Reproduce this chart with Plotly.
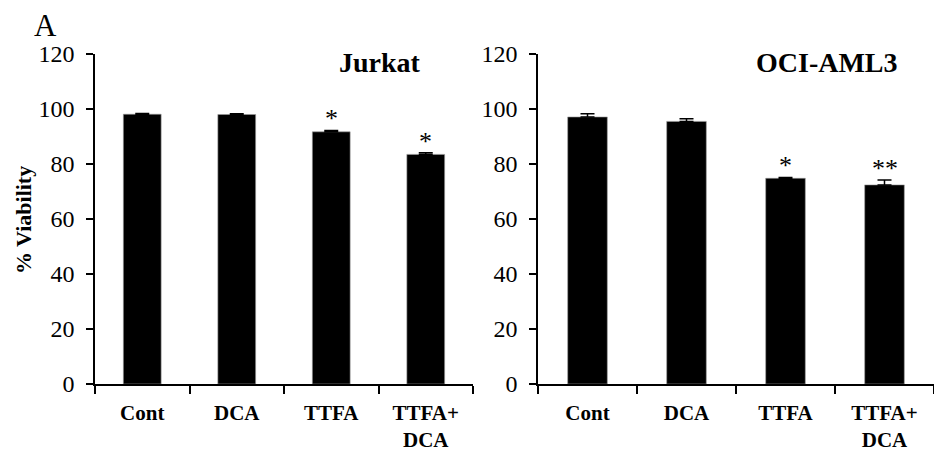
import plotly.graph_objects as go

categories = ["Cont", "DCA", "TTFA", "TTFA+<br>DCA"]
jurkat_values = [98.1, 98.0, 91.7, 83.5]
jurkat_errors = [0.3, 0.3, 0.5, 0.6]
jurkat_stars = ["", "", "*", "*"]
oci_values = [97.1, 95.5, 74.8, 72.4]
oci_errors = [1.2, 1.0, 0.3, 1.8]
oci_stars = ["", "", "*", "**"]
y_ticks = [0, 20, 40, 60, 80, 100, 120]

FONT = "Liberation Serif, Times New Roman, serif"
W, H = 934, 452
fig = go.Figure()

panels = [
    ("x", "y", jurkat_values, jurkat_errors, jurkat_stars),
    ("x2", "y2", oci_values, oci_errors, oci_stars),
]
for xa, ya, vals, errs, stars in panels:
    fig.add_trace(go.Bar(
        x=categories, y=vals, xaxis=xa, yaxis=ya,
        marker=dict(color="black", line=dict(color="#9a9a9a", width=0.6)),
        width=0.40,
        error_y=dict(type="data", symmetric=False, array=errs,
                     arrayminus=[0] * len(errs), color="black",
                     thickness=1.5, width=7),
        showlegend=False, hoverinfo="skip",
    ))
    for c, v, e, s in zip(categories, vals, errs, stars):
        if s:
            fig.add_annotation(x=c, y=v + e, xref=xa, yref=ya, text=s,
                               showarrow=False, xanchor="center",
                               yanchor="bottom", yshift=-5,
                               font=dict(family=FONT, size=26, color="black"))

axis_common = dict(showline=True, linecolor="black", linewidth=1.5,
                   ticks="outside", tickcolor="black", tickwidth=1.5,
                   showgrid=False, zeroline=False, automargin=False)
xfont = dict(family=FONT, size=21, weight="bold", color="black")
yfont = dict(family=FONT, size=24, color="black")

fig.update_layout(
    width=W, height=H,
    margin=dict(l=0, r=0, t=0, b=0, autoexpand=False),
    paper_bgcolor="white", plot_bgcolor="white",
    font=dict(family=FONT, color="black"),
    xaxis=dict(domain=[95 / W, 473 / W], anchor="y", tickson="boundaries",
               ticklen=8, ticklabelstandoff=9, tickfont=xfont, **axis_common),
    xaxis2=dict(domain=[538 / W, 1.0], anchor="y2", tickson="boundaries",
                ticklen=8, ticklabelstandoff=9, tickfont=xfont, **axis_common),
    yaxis=dict(domain=[1 - 384 / H, 1 - 54 / H], anchor="x", range=[0, 120],
               tickvals=y_ticks, ticklen=7, ticklabelstandoff=7, tickfont=yfont,
               **axis_common),
    yaxis2=dict(domain=[1 - 384 / H, 1 - 54 / H], anchor="x2", range=[0, 120],
                tickvals=y_ticks, ticklen=7, ticklabelstandoff=7, tickfont=yfont,
                **axis_common),
)

labels = [
    (380, 63, "<b>Jurkat</b>", 28, 0),
    (827, 63, "<b>OCI-AML3</b>", 28, 0),
    (45, 25, "A", 31, 0),
    (23, 220, "<b>% Viability</b>", 22, -90),
]
for px, py, txt, sz, ang in labels:
    fig.add_annotation(x=px / W, y=1 - py / H, xref="paper", yref="paper",
                       text=txt, showarrow=False, textangle=ang,
                       xanchor="center", yanchor="middle",
                       font=dict(family=FONT, size=sz, color="black"))

fig.write_html("out.html",
               config={"displayModeBar": False},
               post_script="document.body.style.margin='0';"
                           "document.body.style.overflow='hidden';")
